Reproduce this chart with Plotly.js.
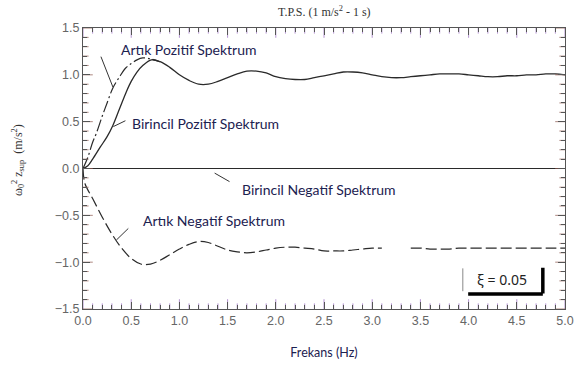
<!DOCTYPE html>
<html>
<head>
<meta charset="utf-8">
<script src="https://cdn.plot.ly/plotly-3.0.1.min.js"></script>
<style>html,body{margin:0;padding:0;background:#fff}#chart{width:574px;height:378px}</style>
</head>
<body>
<div id="chart"></div>
<script>
// Birincil Pozitif Spektrum (solid)
const bpX = [0, 0.05, 0.1, 0.18, 0.25, 0.31, 0.38, 0.45, 0.5, 0.56, 0.62, 0.71, 0.8, 0.9, 1.0, 1.1, 1.2, 1.3, 1.4, 1.5, 1.6, 1.7, 1.8, 1.9, 2.0, 2.1, 2.2, 2.3, 2.4, 2.5, 2.6, 2.7, 2.8, 2.9, 3.0, 3.1, 3.2, 3.3, 3.4, 3.5, 3.6, 3.7, 3.8, 3.9, 4.0, 4.1, 4.2, 4.3, 4.4, 4.5, 4.6, 4.7, 4.8, 4.9, 5.0];
const bpY = [0, 0.03, 0.1, 0.23, 0.34, 0.46, 0.64, 0.82, 0.93, 1.03, 1.1, 1.16, 1.14, 1.08, 1.0, 0.94, 0.9, 0.9, 0.93, 0.97, 1.01, 1.04, 1.04, 1.02, 0.98, 0.96, 0.95, 0.95, 0.97, 0.99, 1.01, 1.03, 1.03, 1.02, 1.0, 0.98, 0.97, 0.97, 0.98, 0.99, 1.0, 1.01, 1.01, 1.01, 1.0, 0.99, 0.98, 0.98, 0.99, 0.99, 1.0, 1.0, 1.01, 1.01, 1.0];
// Artık Pozitif Spektrum (dash-dot)
const apX = [0, 0.05, 0.1, 0.14, 0.2, 0.25, 0.31, 0.38, 0.44, 0.5, 0.56, 0.62, 0.7, 0.8];
const apY = [0, 0.12, 0.28, 0.38, 0.56, 0.7, 0.86, 0.98, 1.07, 1.12, 1.16, 1.18, 1.17, 1.14];
// Birincil Negatif Spektrum
const bnX = [0, 5];
const bnY = [0, 0];
// Artık Negatif Spektrum (dashed)
const anX = [0, 0.02, 0.1, 0.2, 0.3, 0.4, 0.5, 0.6, 0.7, 0.8, 0.9, 1.0, 1.1, 1.2, 1.3, 1.4, 1.5, 1.6, 1.7, 1.8, 1.9, 2.0, 2.1, 2.2, 2.3, 2.4, 2.5, 2.6, 2.7, 2.8, 2.9, 3.0, 3.1, 3.25, 3.4, 3.5, 3.6, 3.7, 3.8, 3.9, 4.0, 4.2, 4.4, 4.6, 4.8, 5.0];
const anY = [0, -0.16, -0.32, -0.52, -0.7, -0.85, -0.96, -1.02, -1.02, -0.98, -0.92, -0.86, -0.81, -0.78, -0.79, -0.83, -0.87, -0.89, -0.9, -0.89, -0.87, -0.85, -0.84, -0.84, -0.85, -0.86, -0.88, -0.88, -0.88, -0.87, -0.86, -0.85, -0.85, null, -0.85, -0.85, -0.86, -0.86, -0.86, -0.85, -0.85, -0.85, -0.85, -0.85, -0.85, -0.85];

const titleText = 'T.P.S. (1 m/s<sup>2</sup> - 1 s)';
const yTitle = 'ω<sub>0</sub><sup>2</sup> z<sub>sup</sub>  (m/s<sup>2</sup>)';
const xTitle = 'Frekans (Hz)';
const labels = ['Artık Pozitif Spektrum', 'Birincil Pozitif Spektrum', 'Birincil Negatif Spektrum', 'Artık Negatif Spektrum'];
const xiText = 'ξ = 0.05';

const xRange = [0, 5];
const yRange = [-1.5, 1.5];
const majorStep = 0.5;
const minorStep = 0.1;

const lineCol = '#2a2a2a';
const tickCol = '#555';

// inside tick marks on all four sides, as clipped line markers centred on the frame
function tickTrace(range, isX) {
  const xs = [], ys = [], sizes = [];
  const n = Math.round((range[1] - range[0]) / minorStep);
  for (let i = 0; i <= n; i++) {
    const v = +(range[0] + i * minorStep).toFixed(6);
    const major = Math.abs(v / majorStep - Math.round(v / majorStep)) < 1e-6;
    const other = isX ? yRange : xRange;
    other.forEach(function (edge) {
      if (isX) { xs.push(v); ys.push(edge); } else { xs.push(edge); ys.push(v); }
      sizes.push(major ? 14 : 8);
    });
  }
  return {x: xs, y: ys, mode: 'markers', hoverinfo: 'skip', cliponaxis: true,
    marker: {symbol: isX ? 'line-ns-open' : 'line-ew-open', size: sizes, line: {color: tickCol, width: 1}}};
}

const traces = [
  {x: bnX, y: bnY, mode: 'lines', line: {color: lineCol, width: 1.2}, name: labels[2]},
  {x: apX, y: apY, mode: 'lines', line: {color: lineCol, width: 1.2, dash: '12px,3px,2px,3px', shape: 'spline'}, name: labels[0]},
  {x: bpX, y: bpY, mode: 'lines', line: {color: lineCol, width: 1.3, shape: 'spline'}, name: labels[1]},
  {x: anX, y: anY, mode: 'lines', connectgaps: false, line: {color: lineCol, width: 1.2, dash: '11px,4px', shape: 'spline'}, name: labels[3]},
  tickTrace(xRange, true),
  tickTrace(yRange, false)
];

const annFont = {family: 'Lato, "Open Sans", sans-serif', size: 14, color: '#1c2150'};
const ptr = (x1, y1, x0, y0, col, w) => ({x: x1, y: y1, ax: x0, ay: y0, xref: 'x', yref: 'y', axref: 'x', ayref: 'y', text: '', showarrow: true, arrowhead: 0, arrowwidth: w || 1, arrowcolor: col || '#333', standoff: 0, startstandoff: 0});

function axisBase() {
  return {
    dtick: majorStep, tickformat: '.1f', ticks: 'inside', ticklen: 7, tickcolor: tickCol,
    showline: true, linecolor: tickCol, mirror: 'allticks', showgrid: false, zeroline: false,
    minor: {dtick: minorStep, ticks: 'inside', ticklen: 4},
    tickfont: {family: 'Arial, "Liberation Sans", sans-serif', size: 12.5, color: '#666'}
  };
}

const layout = {
  width: 574, height: 378,
  margin: {l: 83, r: 9, t: 28, b: 69},
  showlegend: false,
  title: {text: titleText, font: {family: '"Liberation Serif", "DejaVu Serif", serif', size: 12, color: '#333'}, x: 0.565, xanchor: 'center', y: 0.97, yanchor: 'middle'},
  xaxis: Object.assign(axisBase(), {
    range: xRange,
    title: {text: xTitle, font: {family: 'Lato, "Open Sans", sans-serif', size: 12.5, color: '#1c2150'}}
  }),
  yaxis: Object.assign(axisBase(), {range: yRange}),
  annotations: [
    {x: -0.135, y: 0.53, xref: 'paper', yref: 'paper', text: yTitle, textangle: -90, showarrow: false, xanchor: 'center', yanchor: 'middle', font: {family: '"Liberation Serif", "DejaVu Serif", serif', size: 12, color: '#333'}},
    {x: 1.09, y: 1.27, xref: 'x', yref: 'y', text: labels[0], showarrow: false, font: annFont},
    {x: 1.27, y: 0.48, xref: 'x', yref: 'y', text: labels[1], showarrow: false, font: annFont},
    {x: 2.45, y: -0.22, xref: 'x', yref: 'y', text: labels[2], showarrow: false, font: annFont},
    {x: 1.36, y: -0.56, xref: 'x', yref: 'y', text: labels[3], showarrow: false, font: annFont},
    {x: 4.35, y: -1.18, xref: 'x', yref: 'y', text: xiText, showarrow: false, font: {family: '"Noto Sans", Lato, sans-serif', size: 14, color: '#222'}},
    ptr(0.31, 0.87, 0.18, 1.21),
    ptr(0.44, 0.51, 0.30, 0.44),
    ptr(1.52, -0.14, 1.35, -0.04),
    ptr(0.47, -0.64, 0.33, -0.78),
    ptr(3.94, -1.31, 3.94, -1.05, '#888', 1),
    ptr(4.77, -1.34, 3.98, -1.34, '#000', 3.5),
    ptr(4.77, -1.06, 4.77, -1.35, '#000', 3.5)
  ]
};

Plotly.newPlot('chart', traces, layout, {displayModeBar: false, staticPlot: true});
</script>
</body>
</html>
